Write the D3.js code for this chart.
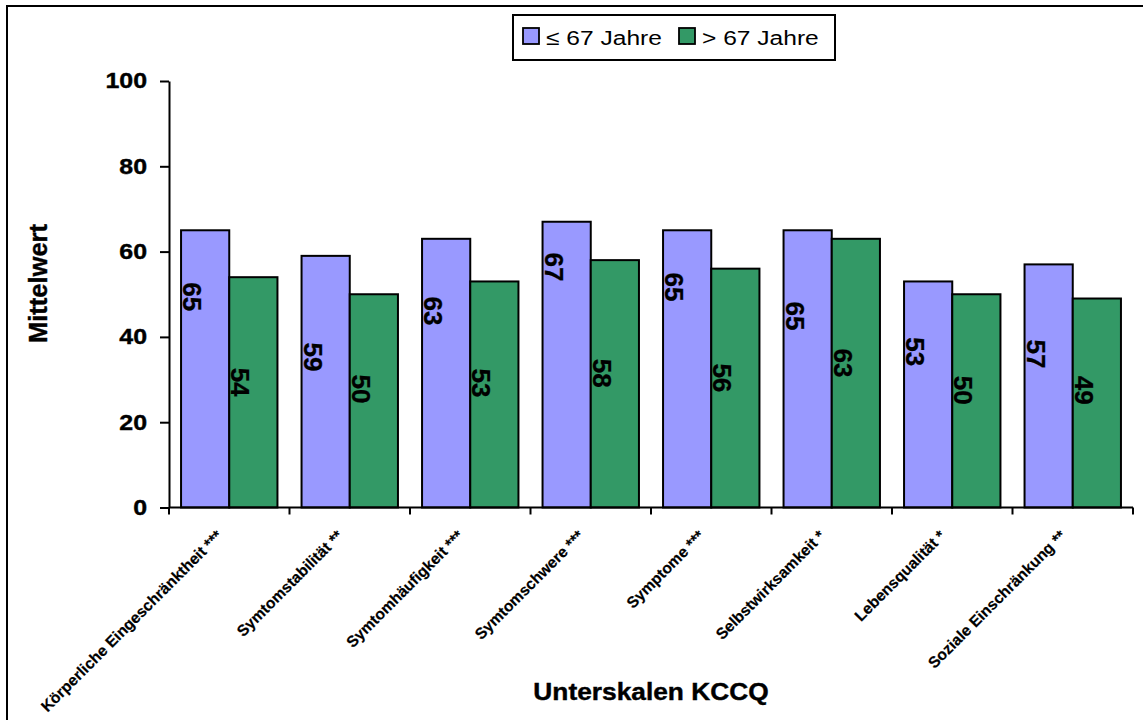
<!DOCTYPE html>
<html>
<head>
<meta charset="utf-8">
<script src="https://cdn.jsdelivr.net/npm/d3@7"></script>
<style>
  html, body { margin: 0; padding: 0; background: #fff; }
  svg { display: block; font-family: "Liberation Sans", Arial, sans-serif; }
</style>
</head>
<body>
<svg id="chart" width="1143" height="720"></svg>
<script>
// KCCQ subscales: mean scores by age group
const categories = [
  "Körperliche Eingeschränktheit ***",
  "Symtomstabilität **",
  "Symtomhäufigkeit ***",
  "Symtomschwere ***",
  "Symptome ***",
  "Selbstwirksamkeit *",
  "Lebensqualität *",
  "Soziale Einschränkung **"
];
const seriesNames = ["≤ 67 Jahre", "> 67 Jahre"];
const youngerValues = [65, 59, 63, 67, 65, 65, 53, 57];
const olderValues   = [54, 50, 53, 58, 56, 63, 50, 49];
// height (in score units) at which each value label sits inside its bar
const youngerLabelAt = [49.4, 35.3, 46.1, 56.4, 51.7, 44.9, 36.5, 36.0];
const olderLabelAt   = [29.4, 27.8, 29.2, 31.5, 30.4, 33.9, 27.5, 27.5];
const yTicks = [0, 20, 40, 60, 80, 100];
const colors = ["#9999FF", "#339966"];

const svg = d3.select("#chart");
const plot = { left: 169, right: 1133, top: 81, bottom: 507.5 };

// frame
svg.append("path")
  .attr("d", `M7,720 V6 H1143`)
  .attr("fill", "none").attr("stroke", "#000").attr("stroke-width", 2);

const y = d3.scaleLinear().domain([0, 100]).range([plot.bottom, plot.top]);
const x0 = d3.scaleBand().domain(categories).range([plot.left, plot.right]).padding(0);
const bw = x0.bandwidth();
const x1 = d3.scaleBand().domain(seriesNames).range([bw * 0.1, bw * 0.9]).padding(0);

const rows = categories.map((c, i) => ({
  cat: c,
  vals: [
    { s: seriesNames[0], v: youngerValues[i], at: youngerLabelAt[i], col: colors[0] },
    { s: seriesNames[1], v: olderValues[i], at: olderLabelAt[i], col: colors[1] }
  ]
}));

// bars
const groups = svg.append("g").selectAll("g").data(rows).join("g")
  .attr("transform", d => `translate(${x0(d.cat)},0)`);

groups.selectAll("rect").data(d => d.vals).join("rect")
  .attr("x", d => x1(d.s))
  .attr("y", d => y(d.v))
  .attr("width", x1.bandwidth())
  .attr("height", d => y(0) - y(d.v))
  .attr("fill", d => d.col)
  .attr("stroke", "#000")
  .attr("stroke-width", 2);

// value labels, rotated
groups.selectAll("text.val").data(d => d.vals).join("text")
  .attr("class", "val")
  .attr("transform", d => `translate(${x1(d.s) + 11},${y(d.at)}) rotate(90)`)
  .attr("text-anchor", "middle")
  .attr("dominant-baseline", "central")
  .attr("font-size", 26)
  .attr("font-weight", "bold")
  .attr("fill", "#000")
  .attr("stroke", "#000").attr("stroke-width", 0.3)
  .text(d => d.v);

// y axis
const yAxis = svg.append("g")
  .attr("transform", `translate(${plot.left},0)`)
  .call(d3.axisLeft(y).tickValues(yTicks).tickSize(9).tickPadding(13).tickSizeOuter(0));
yAxis.select(".domain").attr("stroke-width", 2);
yAxis.selectAll(".tick line").attr("stroke-width", 2);
yAxis.selectAll(".tick text")
  .attr("font-size", 21.5)
  .attr("font-weight", "bold")
  .attr("font-family", "Liberation Sans, Arial, sans-serif")
  .attr("fill", "#000")
  .attr("stroke", "#000").attr("stroke-width", 0.4)
  .each(function () {
    const t = d3.select(this);
    const xPos = +t.attr("x");
    t.attr("x", null)
     .attr("transform", `translate(${xPos},0) scale(1.16,1)`);
  });

// x axis: ticks at category boundaries
const xAxisG = svg.append("g");
xAxisG.append("line")
  .attr("x1", plot.left).attr("x2", plot.right)
  .attr("y1", plot.bottom).attr("y2", plot.bottom)
  .attr("stroke", "#000").attr("stroke-width", 2);
const boundaries = categories.map(c => x0(c)).concat([x0(categories[categories.length - 1]) + bw]);
xAxisG.selectAll("line.tk").data(boundaries).join("line")
  .attr("class", "tk")
  .attr("x1", d => d).attr("x2", d => d)
  .attr("y1", plot.bottom).attr("y2", plot.bottom + 7)
  .attr("stroke", "#000").attr("stroke-width", 2);

// category labels at 45°
svg.append("g").selectAll("text").data(categories).join("text")
  .attr("transform", d => `translate(${x0(d) + bw / 2 - 6},537) rotate(-45)`)
  .attr("text-anchor", "end")
  .attr("font-size", 15.6)
  .attr("font-weight", "bold")
  .attr("fill", "#000")
  .attr("stroke", "#000").attr("stroke-width", 0.2)
  .text(d => d);

// axis titles
svg.append("text")
  .attr("transform", `translate(${(plot.left + plot.right) / 2},700) scale(1.12,1)`)
  .attr("text-anchor", "middle")
  .attr("font-size", 23.5)
  .attr("font-weight", "bold")
  .attr("stroke", "#000").attr("stroke-width", 0.4)
  .text("Unterskalen KCCQ");

svg.append("text")
  .attr("transform", `translate(47,283.5) rotate(-90)`)
  .attr("text-anchor", "middle")
  .attr("font-size", 25.5)
  .attr("font-weight", "bold")
  .attr("stroke", "#000").attr("stroke-width", 0.4)
  .text("Mittelwert");

// legend
const legend = svg.append("g");
legend.append("rect")
  .attr("x", 513).attr("y", 15).attr("width", 322).attr("height", 45)
  .attr("fill", "#fff").attr("stroke", "#000").attr("stroke-width", 2);
const legendX = [523, 679];
const legItems = legend.selectAll("g.item").data(seriesNames).join("g")
  .attr("class", "item")
  .attr("transform", (d, i) => `translate(${legendX[i]},28)`);
legItems.append("rect")
  .attr("width", 16).attr("height", 16)
  .attr("fill", (d, i) => colors[i])
  .attr("stroke", "#000").attr("stroke-width", 1.8);
legItems.append("text")
  .attr("transform", "translate(23,17) scale(1.17,1)")
  .attr("font-size", 21)
  .attr("fill", "#000")
  .text(d => d);
</script>
</body>
</html>
